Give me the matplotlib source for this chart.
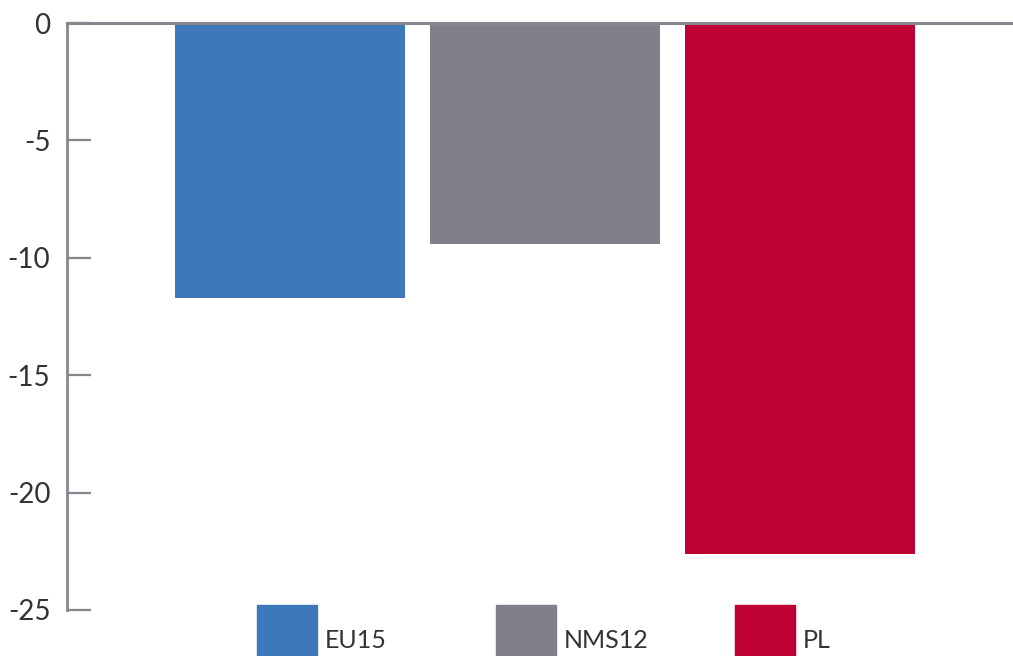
import matplotlib.pyplot as plt
from matplotlib.patches import Rectangle

categories = ["EU15", "NMS12", "PL"]
values = [-11.7, -9.4, -22.6]
colors = ["#3c78ba", "#808089", "#be0032"]
yticks = [0, -5, -10, -15, -20, -25]

W, H = 1013, 656
axis_grey = "#86868e"
text_col = "#333333"

plt.rcParams["font.family"] = ["Lato", "DejaVu Sans"]

fig = plt.figure(figsize=(W / 100, H / 100), dpi=100)
# axes box in pixels: left 67, right 1013, top 23, bottom 610
ax = fig.add_axes([67 / W, 1 - 610 / H, (W - 67) / W, (610 - 23) / H])

x = range(len(categories))
ax.bar(x, values, width=230 / 255, color=colors, zorder=2)
ax.axhline(0, color=axis_grey, lw=2.2, zorder=3, clip_on=False)

ax.set_xlim(-223 / 255, 723 / 255)
ax.set_ylim(-25, 0)
ax.set_xticks([])
ax.set_yticks(yticks)
ax.set_yticklabels([str(t) for t in yticks], fontsize=20, color=text_col)
ax.tick_params(axis="y", direction="in", length=17, width=1.6,
               color=axis_grey, pad=12)

for s in ["top", "right", "bottom"]:
    ax.spines[s].set_visible(False)
ax.spines["left"].set_color(axis_grey)
ax.spines["left"].set_linewidth(2)

# legend along the bottom edge, cut off by the figure border
leg_x = [257, 496, 735]
for lx, name, c in zip(leg_x, categories, colors):
    fig.patches.append(Rectangle((lx / W, 1 - 665 / H), 60 / W, 60 / H,
                                 transform=fig.transFigure, color=c))
    fig.text((lx + 68) / W, 1 - 640 / H, name, fontsize=18, color=text_col,
             va="center", ha="left")

fig.savefig("out.png", dpi=100)
